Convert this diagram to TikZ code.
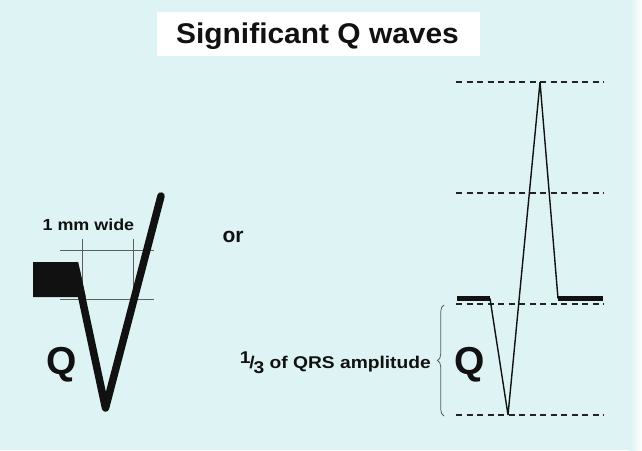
\documentclass[tikz,border=0pt]{standalone}
\usepackage{fontspec}
\setmainfont{Liberation Sans}
\usetikzlibrary{decorations.pathreplacing}
\definecolor{bgc}{RGB}{222,243,243}
\definecolor{ink}{RGB}{17,17,17}
\definecolor{gridc}{RGB}{90,95,95}
\definecolor{dashc}{RGB}{35,35,35}
\begin{document}
\begin{tikzpicture}[x=1pt,y=-1pt,
  lbl/.style={font=\bfseries, inner sep=0pt, text=ink},
  gridline/.style={draw=gridc, line width=0.9pt},
  refline/.style={draw=dashc, line width=1.6pt, dash pattern=on 6pt off 4.5pt},
  thickbar/.style={draw=ink, line width=5.5pt},
  wave/.style={draw=ink, line width=1.4pt, line join=miter, miter limit=3},
  ]
\useasboundingbox (0,0) rectangle (642,450);
\fill[bgc] (0,0) rectangle (642,450);
\shade[left color=bgc, right color=white] (630,0) rectangle (642,450);
% title
\fill[white] (157,12) rectangle (480,56);
\node[lbl, anchor=base] (title) at (317.5,43) {\fontsize{28.5}{30}\selectfont\scalebox{1.05}[1]{Significant Q waves}};
% left figure: 1 mm grid
\draw[gridline] (60,250) -- (154,250);
\draw[gridline] (60,299) -- (154,299);
\draw[gridline] (82,239) -- (82,301);
\draw[gridline] (133,239) -- (133,301);
\fill[ink] (33,262) -- (78.2,262) -- (85.8,297) -- (33,297) -- cycle;
\coordinate (qs) at (76,270);
\coordinate (qb) at (105.5,408);
\coordinate (qe) at (161,196);
\draw[ink, line width=7.5pt, line cap=round, line join=round] (qs) -- (qb) -- (qe);
\node[lbl, anchor=base] (wide) at (88.4,230.7) {\fontsize{16}{18}\selectfont\scalebox{1.12}[1]{1 mm wide}};
\node[lbl, anchor=base] (qleft) at (62,374) {\fontsize{39}{42}\selectfont Q};
\node[lbl, anchor=base] (or) at (233,242.3) {\fontsize{21}{24}\selectfont or};
% right figure: reference lines
\draw[refline] (456,82) -- (604,82);
\draw[refline] (456,193) -- (604,193);
\draw[refline] (456,304) -- (604,304);
\draw[refline] (456,415) -- (604,415);
\coordinate (b0) at (457,298.5);
\coordinate (b1) at (490,298.5);
\coordinate (qlow) at (508,415);
\coordinate (rtop) at (540,82);
\coordinate (b2) at (558,298.5);
\coordinate (b3) at (603,298.5);
\draw[thickbar] (b0) -- (b1);
\draw[thickbar] (b2) -- (b3);
\draw[wave] (b1) -- (qlow) -- (rtop) -- (b2);
\draw[gridc, line width=0.8pt, decorate, decoration={brace, amplitude=6.5pt}] (444,416) -- (444,305);
\node[lbl, anchor=base] (qright) at (470,374) {\fontsize{39}{42}\selectfont Q};
\node[lbl, anchor=base east] (third) at (431,368) {\fontsize{17}{19}\selectfont\scalebox{1.13}[1]{\raisebox{5pt}{1}\kern-1pt/\kern-1pt\raisebox{-5pt}{3} of QRS amplitude}};
\end{tikzpicture}
\end{document}
